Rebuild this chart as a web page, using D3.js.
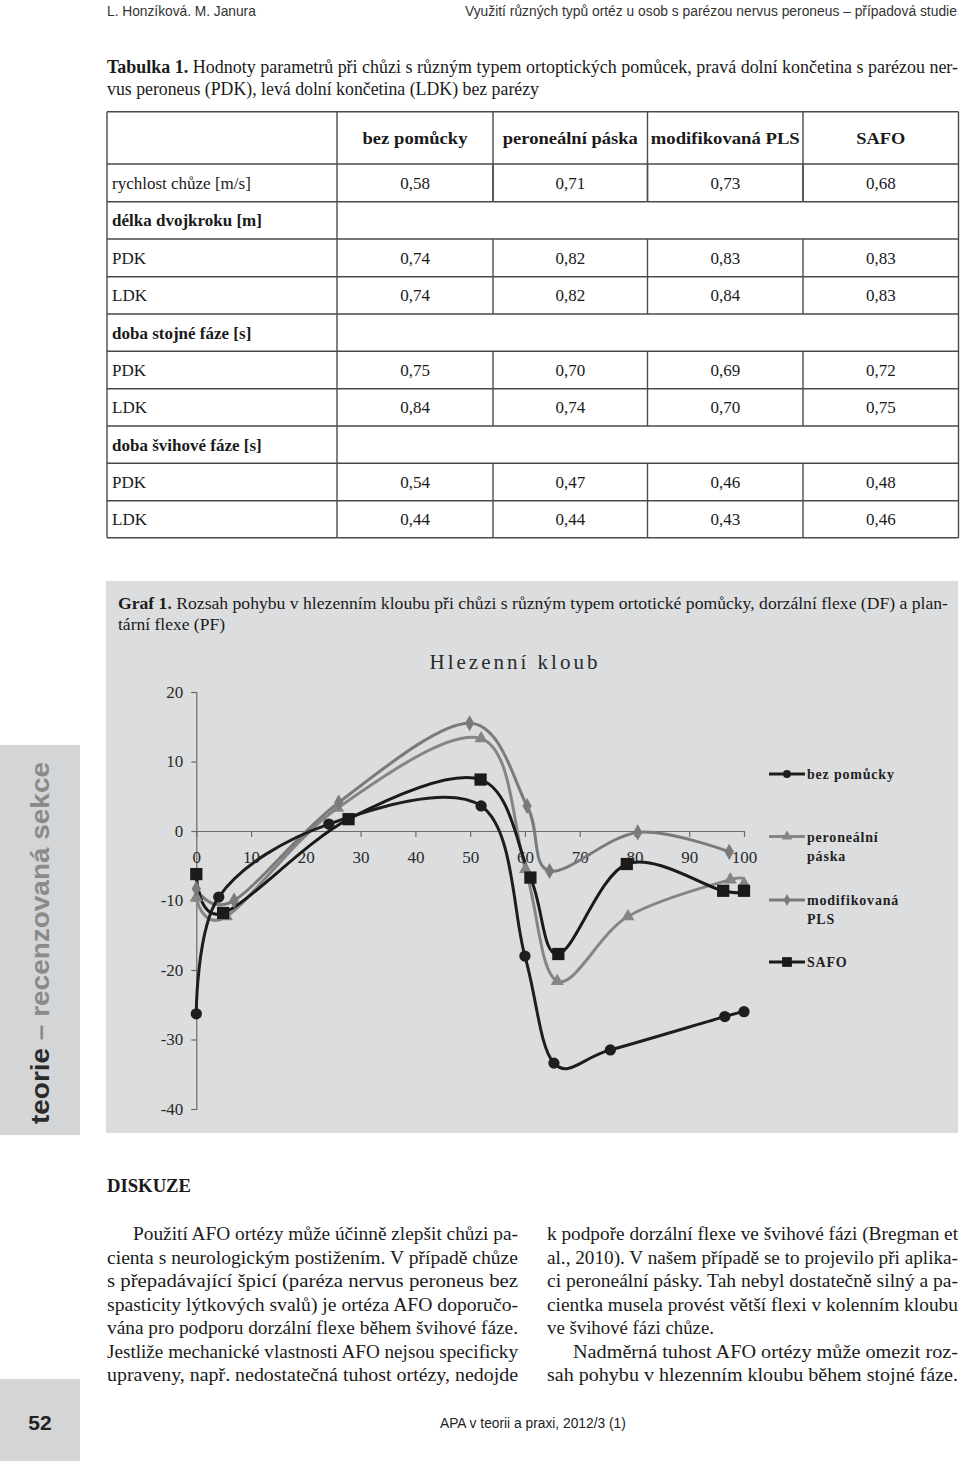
<!DOCTYPE html>
<html><head><meta charset="utf-8">
<script src="https://cdn.jsdelivr.net/npm/d3@7"></script>
<style>body{margin:0;background:#fff}svg{display:block}</style>
</head><body>
<script>
// ---------- DATA ----------
const columns = ["bez pomůcky","peroneální páska","modifikovaná PLS","SAFO"];
const rychlost = [0.58,0.71,0.73,0.68];
const delkaPDK = [0.74,0.82,0.83,0.83];
const delkaLDK = [0.74,0.82,0.84,0.83];
const stojPDK = [0.75,0.70,0.69,0.72];
const stojLDK = [0.84,0.74,0.70,0.75];
const svihPDK = [0.54,0.47,0.46,0.48];
const svihLDK = [0.44,0.44,0.43,0.46];

const seriesNames = ["bez pomůcky","peroneální páska","modifikovaná PLS","SAFO"];
const bezX = [0,4.1,24.2,52,60,65.3,75.6,96.5,100];
const bezY = [-26.3,-9.5,1,3.6,-18,-33.4,-31.5,-26.7,-26];
const paskaX = [0,5.5,25.8,52,60.1,65.9,78.8,97.5,100];
const paskaY = [-9.6,-12.3,3.3,13.3,-5.5,-21.6,-12.3,-7.0,-7.6];
const plsX = [0,6.9,26,49.9,60.4,64.5,80.6,97.3];
const plsY = [-8.3,-10,4.1,15.5,3.6,-5.75,-0.2,-3.0];
const safoX = [0,4.9,27.8,51.9,61,66.1,78.6,96.2,100];
const safoY = [-6.2,-11.8,1.7,7.4,-6.7,-17.7,-4.75,-8.6,-8.6];
const xTicks = [0,10,20,30,40,50,60,70,80,90,100];
const yTicks = [20,10,0,-10,-20,-30,-40];

// ---------- PAGE ----------
const W=960,H=1461;
const svg=d3.select("body").append("svg").attr("width",W).attr("height",H);
const SERIF="'Liberation Serif','Times New Roman',serif";
const SANS="'Liberation Sans',Arial,sans-serif";
function T(x,y,s,o={}){
  const t=svg.append("text").attr("x",x).attr("y",y).text(s)
    .attr("font-family",o.f||SERIF).attr("font-size",o.fs||17)
    .attr("fill",o.c||"#1a1a1a");
  if(o.w) t.attr("font-weight",o.w);
  if(o.a) t.attr("text-anchor",o.a);
  if(o.len) t.attr("textLength",o.len).attr("lengthAdjust","spacingAndGlyphs");
  if(o.ls) t.attr("letter-spacing",o.ls);
  return t;
}
// condensed sans text: scale horizontally to a target width
function C(x,y,s,target,fs,c){
  const t=svg.append("text").attr("x",0).attr("y",0).text(s)
    .attr("font-family",SANS).attr("font-size",fs).attr("fill",c);
  const w=t.node().getComputedTextLength();
  t.attr("transform",`translate(${x},${y}) scale(${target/w},1)`);
  return t;
}
// header
C(107,16,"L. Honzíková. M. Janura",149,14,"#333");
C(465,16,"Využití různých typů ortéz u osob s parézou nervus peroneus – případová studie",492,14,"#333");

// table caption
{
  const t=svg.append("text").attr("x",107).attr("y",73).attr("font-family",SERIF).attr("font-size",18).attr("fill","#1a1a1a")
    .attr("textLength",851).attr("lengthAdjust","spacingAndGlyphs");
  t.append("tspan").attr("font-weight","bold").text("Tabulka 1.");
  t.append("tspan").text(" Hodnoty parametrů při chůzi s různým typem ortoptických pomůcek, pravá dolní končetina s parézou ner-");
  T(107,95,"vus peroneus (PDK), levá dolní končetina (LDK) bez parézy",{fs:18,len:432});
}

// table
const colX=[107,337,493,647.5,803,958.5];
const rowY=[111.7,164,201.7,239,276.7,314,351.3,388.7,426,463.3,500.7,537.7];
const rows=[
  {label:"rychlost chůze [m/s]",v:rychlost},
  {label:"délka dvojkroku [m]",sec:true},
  {label:"PDK",v:delkaPDK},{label:"LDK",v:delkaLDK},
  {label:"doba stojné fáze [s]",sec:true},
  {label:"PDK",v:stojPDK},{label:"LDK",v:stojLDK},
  {label:"doba švihové fáze [s]",sec:true},
  {label:"PDK",v:svihPDK},{label:"LDK",v:svihLDK}
];
const tg=svg.append("g").attr("stroke","#4a4a4a").attr("stroke-width",1.4);
const fmt=v=>d3.format(".2f")(v).replace(".",",");
rowY.forEach(y=>tg.append("line").attr("x1",colX[0]).attr("x2",colX[5]).attr("y1",y).attr("y2",y));
tg.append("line").attr("x1",colX[0]).attr("x2",colX[0]).attr("y1",rowY[0]).attr("y2",rowY[11]);
tg.append("line").attr("x1",colX[5]).attr("x2",colX[5]).attr("y1",rowY[0]).attr("y2",rowY[11]);
tg.append("line").attr("x1",colX[1]).attr("x2",colX[1]).attr("y1",rowY[0]).attr("y2",rowY[11]);
[2,3,4].forEach(c=>{
  tg.append("line").attr("x1",colX[c]).attr("x2",colX[c]).attr("y1",rowY[0]).attr("y2",rowY[2]);
  rows.forEach((r,i)=>{ if(!r.sec) tg.append("line").attr("x1",colX[c]).attr("x2",colX[c]).attr("y1",rowY[i+1]).attr("y2",rowY[i+2]); });
});
const hdrLen=[105,135,149,49];
columns.forEach((c,i)=>T((colX[i+1]+colX[i+2])/2,144,c,{w:"bold",a:"middle",fs:17,len:hdrLen[i]}));
rows.forEach((r,i)=>{
  const yb=(rowY[i+1]+rowY[i+2])/2+6;
  T(112,yb,r.label,{w:r.sec?"bold":null,fs:17});
  if(r.v) r.v.forEach((v,j)=>T((colX[j+1]+colX[j+2])/2,yb,fmt(v),{a:"middle",fs:17}));
});

// ---------- CHART PANEL ----------
svg.append("rect").attr("x",106).attr("y",581).attr("width",852).attr("height",552).attr("fill","#dcdddf");
{
  const t=svg.append("text").attr("x",118).attr("y",609).attr("font-family",SERIF).attr("font-size",17).attr("fill","#1a1a1a")
    .attr("textLength",830).attr("lengthAdjust","spacingAndGlyphs");
  t.append("tspan").attr("font-weight","bold").text("Graf 1.");
  t.append("tspan").text(" Rozsah pohybu v hlezenním kloubu při chůzi s různým typem ortotické pomůcky, dorzální flexe (DF) a plan-");
  T(118,630,"tární flexe (PF)",{fs:17,len:107});
}
T(515,669,"Hlezenní kloub",{fs:21,a:"middle",c:"#2a2a2a",ls:3});

const x=d3.scaleLinear().domain([0,100]).range([196.3,744]);
const y=d3.scaleLinear().domain([-40,20]).range([1109,692]);
const axG=svg.append("g");
const yAxis=d3.axisLeft(y).tickValues(yTicks).tickSize(5).tickPadding(8).tickFormat(d=>String(d));
const ya=axG.append("g").attr("transform",`translate(${x(0)},0)`).call(yAxis);
ya.select(".domain").attr("stroke","#6a6a6a").attr("stroke-width",1.2);
ya.selectAll(".tick line").attr("stroke","#6a6a6a").attr("stroke-width",1.2);
ya.selectAll(".tick text").attr("font-family",SERIF).attr("font-size",17).attr("fill","#2a2a2a");
const xAxis=d3.axisBottom(x).tickValues(xTicks).tickSize(6).tickSizeOuter(0).tickPadding(14).tickFormat(d=>String(d));
const xa=axG.append("g").attr("transform",`translate(0,${y(0)})`).call(xAxis);
xa.select(".domain").attr("stroke","#6a6a6a").attr("stroke-width",1.2);
xa.selectAll(".tick line").attr("stroke","#6a6a6a").attr("stroke-width",1.2);
xa.selectAll(".tick text").attr("font-family",SERIF).attr("font-size",17).attr("fill","#2a2a2a");

const series=[
  {name:seriesNames[0],xs:bezX,ys:bezY,color:"#1e1e1e",shape:d3.symbolCircle,size:100,lsize:50},
  {name:seriesNames[1],xs:paskaX,ys:paskaY,color:"#858585",shape:d3.symbolTriangle,size:75,lsize:45},
  {name:seriesNames[2],xs:plsX,ys:plsY,color:"#7a7a7a",shape:d3.symbolDiamond,size:75,lsize:40},
  {name:seriesNames[3],xs:safoX,ys:safoY,color:"#1a1a1a",shape:d3.symbolSquare,size:150,lsize:95}
];
const line=d3.line().x(d=>x(d[0])).y(d=>y(d[1])).curve(d3.curveCardinal.tension(0));
const order=[1,2,0,3];
order.forEach(i=>{
  const s=series[i];
  const pts=s.xs.map((v,k)=>[v,s.ys[k]]);
  svg.append("path").attr("d",line(pts)).attr("fill","none").attr("stroke",s.color).attr("stroke-width",3);
});
order.forEach(i=>{
  const s=series[i];
  const pts=s.xs.map((v,k)=>[v,s.ys[k]]);
  svg.append("g").selectAll("path").data(pts).join("path")
    .attr("d",d3.symbol().type(s.shape).size(s.size))
    .attr("transform",d=>`translate(${x(d[0])},${y(d[1])})`)
    .attr("fill",s.color);
});
// legend
const legY=[774,836.5,900,962];
const legLines=[["bez pomůcky"],["peroneální","páska"],["modifikovaná","PLS"],["SAFO"]];
series.forEach((s,i)=>{
  const yy=legY[i];
  svg.append("line").attr("x1",769).attr("x2",805).attr("y1",yy).attr("y2",yy).attr("stroke",s.color).attr("stroke-width",3);
  svg.append("path").attr("d",d3.symbol().type(s.shape).size(s.lsize)).attr("transform",`translate(787,${yy})`).attr("fill",s.color);
  legLines[i].forEach((l,k)=>T(807,yy+5+k*19,l,{fs:14,w:"bold",c:"#222",ls:0.8}));
});

// ---------- SIDE BAND ----------
svg.append("rect").attr("x",0).attr("y",745).attr("width",80).attr("height",390).attr("fill","#d4d5d7");
{
  const t=svg.append("text").attr("transform","translate(49,1124) rotate(-90)")
    .attr("font-family",SANS).attr("font-weight","bold").attr("font-size",26)
    .attr("textLength",362).attr("lengthAdjust","spacingAndGlyphs");
  t.append("tspan").attr("fill","#2b2b2b").text("teorie");
  t.append("tspan").attr("fill","#8a8a8a").text(" – recenzovaná sekce");
}
svg.append("rect").attr("x",0).attr("y",1379).attr("width",80).attr("height",82).attr("fill","#d4d5d7");
T(40,1430,"52",{f:SANS,fs:21,w:"bold",a:"middle",c:"#222"});

// ---------- DISKUZE ----------
T(107,1192,"DISKUZE",{fs:18,w:"bold",len:84});
const leftLines=[
  ["Použití AFO ortézy může účinně zlepšit chůzi pa-",133,385],
  ["cienta s neurologickým postižením. V případě chůze",107,411],
  ["s přepadávající špicí (paréza nervus peroneus bez",107,411],
  ["spasticity lýtkových svalů) je ortéza AFO doporučo-",107,411],
  ["vána pro podporu dorzální flexe během švihové fáze.",107,411],
  ["Jestliže mechanické vlastnosti AFO nejsou specificky",107,411],
  ["upraveny, např. nedostatečná tuhost ortézy, nedojde",107,411]
];
const rightLines=[
  ["k podpoře dorzální flexe ve švihové fázi (Bregman et",547,411],
  ["al., 2010). V našem případě se to projevilo při aplika-",547,411],
  ["ci peroneální pásky. Tah nebyl dostatečně silný a pa-",547,411],
  ["cientka musela provést větší flexi v kolenním kloubu",547,411],
  ["ve švihové fázi chůze.",547,167],
  ["Nadměrná tuhost AFO ortézy může omezit roz-",573,385],
  ["sah pohybu v hlezenním kloubu během stojné fáze.",547,411]
];
const lineY=[1240,1263.5,1287,1310.5,1334,1357.5,1381];
leftLines.forEach((l,i)=>T(l[1],lineY[i],l[0],{fs:18,len:l[2]}));
rightLines.forEach((l,i)=>T(l[1],lineY[i],l[0],{fs:18,len:l[2]}));

C(440,1428,"APA v teorii a praxi, 2012/3 (1)",186,15,"#222");
</script>
</body></html>
